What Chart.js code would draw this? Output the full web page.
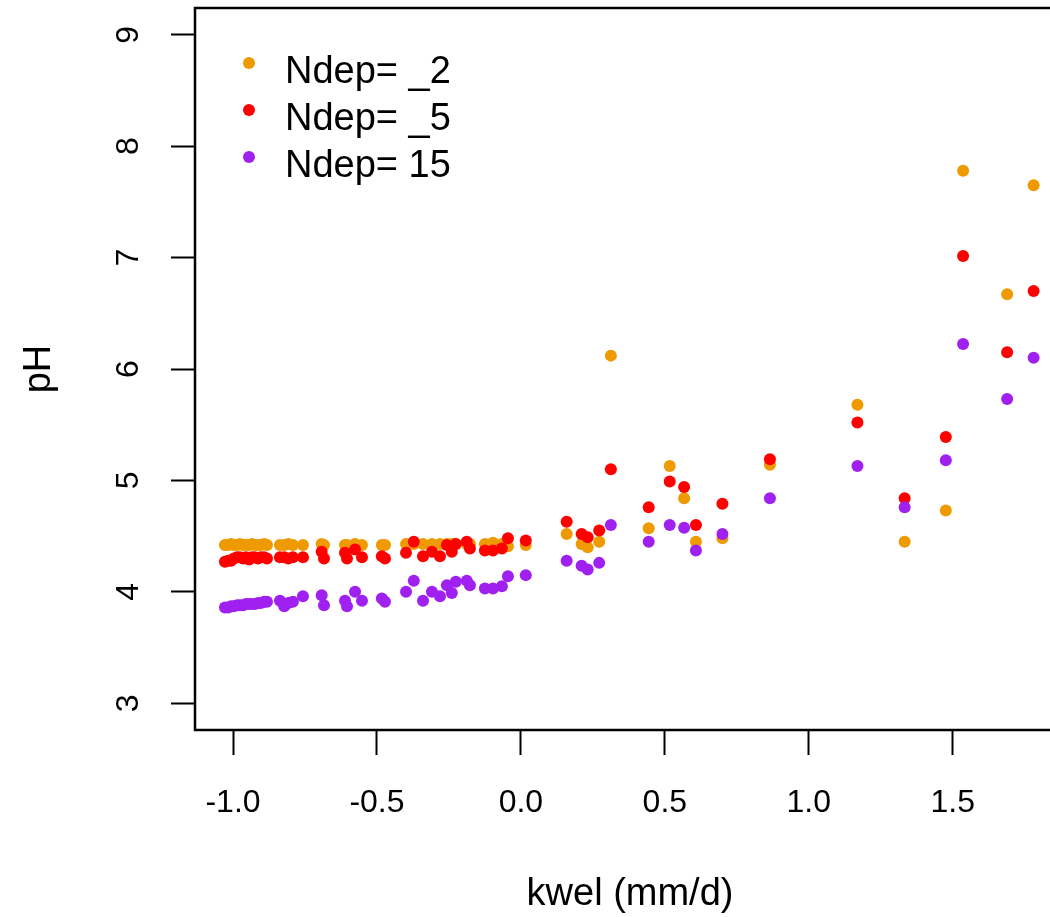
<!DOCTYPE html>
<html>
<head>
<meta charset="utf-8">
<title>pH vs kwel</title>
<script src="https://cdn.jsdelivr.net/npm/chart.js@4.4.1/dist/chart.umd.min.js"></script>
<style>
  html, body { margin: 0; padding: 0; background: #fff; overflow: hidden; }
  #wrap { width: 1075px; height: 917px; }
</style>
</head>
<body>
<div id="wrap"><canvas id="phChart"></canvas></div>
<script>
  // kwel (mm/d), shared by the three Ndep runs
  const kwel = [
    -1.028, -1.017, -1.007, -0.997, -0.986, -0.976, -0.965, -0.955, -0.944, -0.934, -0.924, -0.913, -0.903, -0.892, -0.882,
    -0.837, -0.822, -0.808, -0.792, -0.757,
    -0.692, -0.684,
    -0.611, -0.604, -0.576, -0.552,
    -0.483, -0.472,
    -0.399, -0.372, -0.340, -0.309, -0.281, -0.257, -0.240, -0.226, -0.188, -0.177, -0.125, -0.097, -0.066, -0.045, 0.017,
    0.159, 0.211, 0.232, 0.272, 0.3125, 0.444, 0.517, 0.567, 0.608, 0.70, 0.865, 1.169, 1.333, 1.476, 1.536, 1.689, 1.781
  ];

  const phNdep2 = [
    4.42, 4.42, 4.43, 4.42, 4.42, 4.43, 4.42, 4.42, 4.42, 4.43, 4.42, 4.42, 4.42, 4.43, 4.42,
    4.42, 4.42, 4.43, 4.42, 4.42,
    4.43, 4.42,
    4.42, 4.42, 4.43, 4.42,
    4.42, 4.42,
    4.43, 4.43, 4.43, 4.43, 4.43, 4.43, 4.43, 4.43, 4.43, 4.43, 4.43, 4.44, 4.43, 4.41, 4.42,
    4.52, 4.43, 4.40, 4.45, 6.12, 4.57, 5.13, 4.84, 4.45, 4.48, 5.14, 5.68, 4.45, 4.73, 7.78, 6.67, 7.65
  ];

  const phNdep5 = [
    4.27, 4.28, 4.28, 4.30, 4.31, 4.31, 4.30, 4.31, 4.29, 4.31, 4.31, 4.30, 4.31, 4.31, 4.30,
    4.31, 4.31, 4.30, 4.31, 4.31,
    4.36, 4.30,
    4.35, 4.30, 4.38, 4.31,
    4.32, 4.30,
    4.35, 4.45, 4.32, 4.36, 4.32, 4.42, 4.36, 4.43, 4.45, 4.39, 4.37, 4.37, 4.39, 4.48, 4.46,
    4.63, 4.52, 4.49, 4.55, 5.10, 4.76, 4.99, 4.94, 4.60, 4.79, 5.19, 5.52, 4.84, 5.39, 7.015, 6.15, 6.70
  ];

  const phNdep15 = [
    3.86, 3.86, 3.87, 3.87, 3.88, 3.88, 3.88, 3.89, 3.89, 3.89, 3.89, 3.90, 3.90, 3.91, 3.91,
    3.92, 3.87, 3.90, 3.91, 3.96,
    3.97, 3.88,
    3.92, 3.87, 4.00, 3.92,
    3.94, 3.91,
    4.00, 4.10, 3.92, 4.00, 3.96, 4.06, 3.99, 4.09, 4.10, 4.06, 4.03, 4.03, 4.05, 4.14, 4.15,
    4.28, 4.235, 4.20, 4.26, 4.60, 4.45, 4.60, 4.575, 4.37, 4.52, 4.84, 5.13, 4.76, 5.18, 6.225, 5.73, 6.10
  ];

  const xTicks = [-1, -0.5, 0, 0.5, 1, 1.5];
  const yTicks = [3, 4, 5, 6, 7, 8, 9];
  const seriesNames = ['Ndep= _2', 'Ndep= _5', 'Ndep= 15'];
  const seriesColors = ['#EE9A00', '#FF0000', '#A020F0'];

  const FONT = '"Liberation Sans", Arial, sans-serif';

  function toPoints(ys) {
    return kwel.map((x, i) => ({ x: x, y: ys[i] }));
  }

  // box around the plot, rotated y labels and the inset legend (R base style)
  const rPlotExtras = {
    id: 'rPlotExtras',
    afterDraw(chart) {
      const ctx = chart.ctx;
      const area = chart.chartArea;
      const yScale = chart.scales.y;
      ctx.save();
      ctx.strokeStyle = '#000';
      ctx.lineWidth = 2.5;
      ctx.strokeRect(area.left, area.top, area.right - area.left, area.bottom - area.top);

      ctx.fillStyle = '#000';
      ctx.font = '32px ' + FONT;
      ctx.textAlign = 'center';
      ctx.textBaseline = 'middle';
      yTicks.forEach(v => {
        ctx.save();
        ctx.translate(129, yScale.getPixelForValue(v));
        ctx.rotate(-Math.PI / 2);
        ctx.fillText(String(v), 0, 0);
        ctx.restore();
      });

      ctx.font = '38px ' + FONT;
      ctx.textAlign = 'left';
      ctx.textBaseline = 'alphabetic';
      seriesNames.forEach((name, i) => {
        const base = 83 + i * 47;
        ctx.fillStyle = seriesColors[i];
        ctx.beginPath();
        ctx.arc(249, base - 20, 6, 0, Math.PI * 2);
        ctx.fill();
        ctx.fillStyle = '#000';
        ctx.fillText(name, 285, base);
      });
      ctx.restore();
    }
  };

  const ctx = document.getElementById('phChart').getContext('2d');
  new Chart(ctx, {
    type: 'scatter',
    data: {
      datasets: [
        { label: seriesNames[0], data: toPoints(phNdep2), backgroundColor: seriesColors[0], order: 3 },
        { label: seriesNames[1], data: toPoints(phNdep5), backgroundColor: seriesColors[1], order: 2 },
        { label: seriesNames[2], data: toPoints(phNdep15), backgroundColor: seriesColors[2], order: 1 }
      ]
    },
    options: {
      responsive: true,
      maintainAspectRatio: false,
      animation: false,
      layout: { padding: { top: 8, right: 10, bottom: 0, left: 0 } },
      elements: {
        point: { radius: 6, borderWidth: 0, hoverRadius: 6 }
      },
      plugins: {
        legend: { display: false },
        tooltip: { enabled: false }
      },
      scales: {
        x: {
          type: 'linear',
          min: -1.132,
          max: 1.89,
          afterBuildTicks: s => { s.ticks = xTicks.map(v => ({ value: v })); },
          afterFit: s => { s.height = 187; },
          grid: { drawOnChartArea: false, drawTicks: true, tickLength: 25, tickWidth: 2, tickColor: '#000' },
          border: { display: false },
          ticks: {
            padding: 29,
            color: '#000',
            font: { family: FONT, size: 32 },
            callback: v => Number(v).toFixed(1)
          },
          title: {
            display: true,
            text: 'kwel (mm/d)',
            color: '#000',
            font: { family: FONT, size: 38 },
            padding: { top: 0, bottom: 0 }
          }
        },
        y: {
          type: 'linear',
          min: 2.76,
          max: 9.24,
          afterBuildTicks: s => { s.ticks = yTicks.map(v => ({ value: v })); },
          afterFit: s => { s.width = 195; },
          grid: { drawOnChartArea: false, drawTicks: true, tickLength: 24, tickWidth: 2, tickColor: '#000' },
          border: { display: false },
          ticks: { display: false },
          title: {
            display: true,
            text: 'pH',
            color: '#000',
            font: { family: FONT, size: 38 },
            padding: { top: 17, bottom: 0 }
          }
        }
      }
    },
    plugins: [rPlotExtras]
  });
</script>
</body>
</html>
